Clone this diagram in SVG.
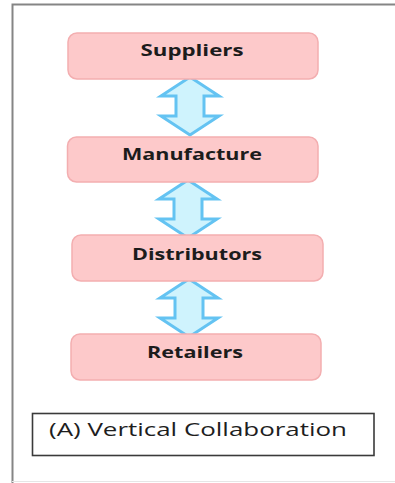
<svg xmlns="http://www.w3.org/2000/svg" width="395" height="483" viewBox="0 0 395 483">
  <defs>
    <style>
      .node rect { fill: #fdc9ca; stroke: #f3aeb0; stroke-width: 1.5; }
      .node text { font-family: "Open Sans", "Liberation Sans", sans-serif; font-weight: bold; font-size: 16px; fill: #1c1c1c; text-anchor: middle; }
      .link { fill: #cff3fd; stroke: #64c3f2; stroke-width: 3; stroke-linejoin: miter; }
      .frame { stroke: #858585; stroke-width: 2; fill: none; }
      .caption rect { fill: #ffffff; stroke: #3a3a3a; stroke-width: 1.6; }
      .caption text { font-family: "Open Sans", "Liberation Sans", sans-serif; font-size: 17.5px; fill: #1e1e1e; }
    </style>
    <!-- double-headed block arrow, centred on x=0, spanning y=0..58 -->
    <path id="dbl" d="M0,0 L29,19 L14,19 L14,39 L29,39 L0,58 L-29,39 L-14,39 L-14,19 L-29,19 Z"/>
  </defs>

  <rect width="395" height="483" fill="#ffffff"/>

  <!-- outer frame -->
  <path class="frame" d="M12.5,483 L12.5,4.5 L395,4.5"/>
  <line x1="12" y1="481.5" x2="395" y2="481.5" stroke="#e6e6e6" stroke-width="1"/>

  <!-- connectors -->
  <g id="connectors">
    <use href="#dbl" class="link" x="190" y="77"/>
    <use href="#dbl" class="link" x="188" y="180"/>
    <use href="#dbl" class="link" x="189" y="279"/>
  </g>

  <g id="suppliers" class="node">
    <rect x="68" y="33" width="250" height="46" rx="9"/>
    <text x="192" y="55.5" textLength="103" lengthAdjust="spacingAndGlyphs">Suppliers</text>
  </g>

  <g id="manufacture" class="node">
    <rect x="67.5" y="137" width="250.5" height="45" rx="9"/>
    <text x="192" y="159.5" textLength="140" lengthAdjust="spacingAndGlyphs">Manufacture</text>
  </g>

  <g id="distributors" class="node">
    <rect x="72" y="235" width="251" height="46" rx="9"/>
    <text x="197" y="259.5" textLength="130" lengthAdjust="spacingAndGlyphs">Distributors</text>
  </g>

  <g id="retailers" class="node">
    <rect x="71" y="334" width="250" height="46" rx="9"/>
    <text x="195" y="357.5" textLength="96" lengthAdjust="spacingAndGlyphs">Retailers</text>
  </g>

  <g id="caption" class="caption">
    <rect x="32.5" y="413.5" width="341.5" height="42"/>
    <text x="49" y="436" textLength="298" lengthAdjust="spacingAndGlyphs">(A) Vertical Collaboration</text>
  </g>
</svg>
